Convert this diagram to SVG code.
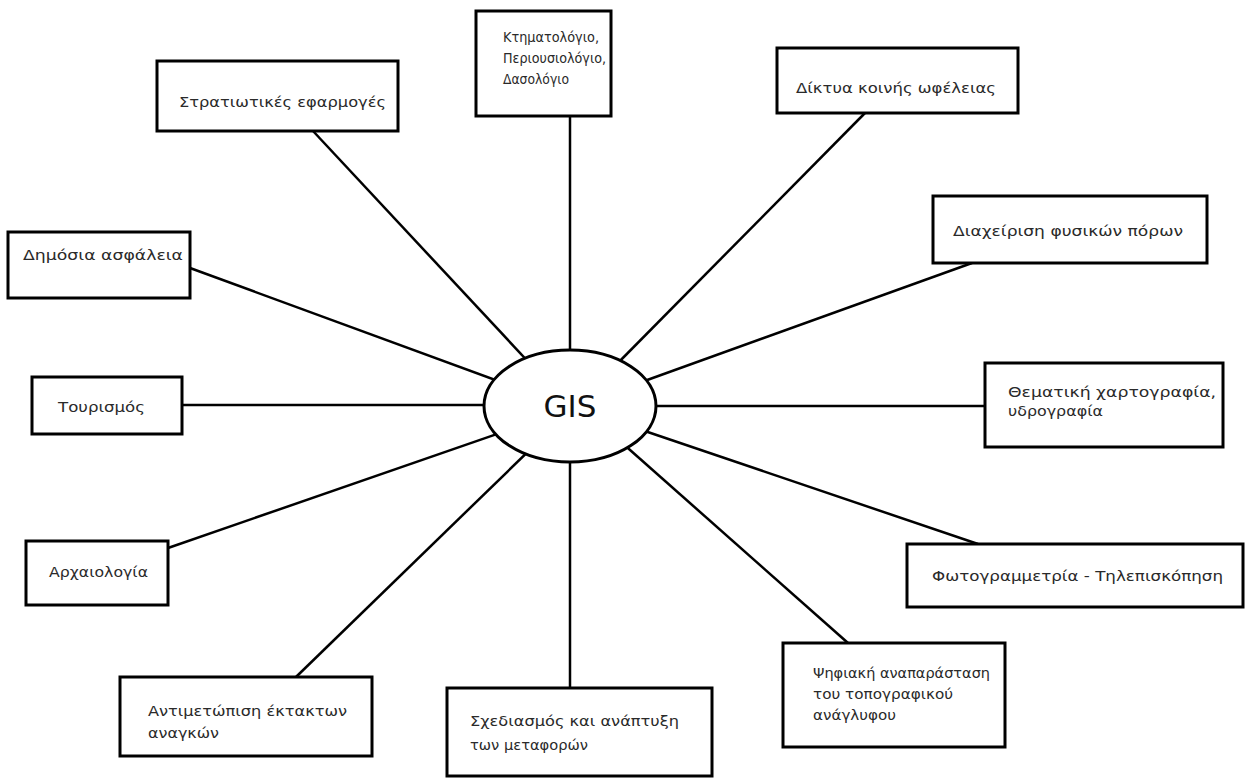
<svg xmlns="http://www.w3.org/2000/svg" width="1248" height="778" viewBox="0 0 1248 778">
<style>
.box{fill:#fff;stroke:#000;stroke-width:3}
.lnk{stroke:#000;stroke-width:2.5;fill:none}
.t{font-family:"DejaVu Sans","Liberation Sans",sans-serif;font-size:14px;fill:#2a2a2a}
.g{font-family:"DejaVu Sans","Liberation Sans",sans-serif;font-size:31px;fill:#111}
</style>
<rect width="1248" height="778" fill="#fff"/>
<g id="connectors">
<line class="lnk" x1="313" y1="131" x2="535" y2="369"/>
<line class="lnk" x1="570" y1="116" x2="570" y2="370"/>
<line class="lnk" x1="865" y1="113" x2="610" y2="371"/>
<line class="lnk" x1="972" y1="263" x2="625" y2="388"/>
<line class="lnk" x1="985" y1="406" x2="640" y2="406"/>
<line class="lnk" x1="978" y1="544" x2="630" y2="426"/>
<line class="lnk" x1="848" y1="643" x2="612" y2="434"/>
<line class="lnk" x1="570" y1="688" x2="570" y2="440"/>
<line class="lnk" x1="296" y1="677" x2="540" y2="440"/>
<line class="lnk" x1="168" y1="548" x2="520" y2="426"/>
<line class="lnk" x1="182" y1="405" x2="500" y2="405"/>
<line class="lnk" x1="190" y1="268" x2="520" y2="389"/>
</g>
<g id="gis">
<ellipse class="box" cx="570" cy="406" rx="86" ry="56"/>
<text class="g" x="570" y="417" text-anchor="middle">GIS</text>
</g>
<g id="n-strat">
<rect class="box" x="157" y="61" width="241" height="70"/>
<text class="t" x="179" y="107" textLength="207" lengthAdjust="spacingAndGlyphs">Στρατιωτικές εφαρμογές</text>
</g>
<g id="n-ktim">
<rect class="box" x="476" y="11" width="135" height="105"/>
<text class="t" x="503" y="42" textLength="96" lengthAdjust="spacingAndGlyphs">Κτηματολόγιο,</text>
<text class="t" x="503" y="63" textLength="103" lengthAdjust="spacingAndGlyphs">Περιουσιολόγιο,</text>
<text class="t" x="503" y="84" textLength="66" lengthAdjust="spacingAndGlyphs">Δασολόγιο</text>
</g>
<g id="n-diktya">
<rect class="box" x="777" y="48" width="241" height="65"/>
<text class="t" x="796" y="93" textLength="200" lengthAdjust="spacingAndGlyphs">Δίκτυα κοινής ωφέλειας</text>
</g>
<g id="n-diax">
<rect class="box" x="933" y="196" width="274" height="67"/>
<text class="t" x="953" y="236" textLength="230" lengthAdjust="spacingAndGlyphs">Διαχείριση φυσικών πόρων</text>
</g>
<g id="n-dimosia">
<rect class="box" x="8" y="232" width="182" height="66"/>
<text class="t" x="23" y="260" textLength="160" lengthAdjust="spacingAndGlyphs">Δημόσια ασφάλεια</text>
</g>
<g id="n-tour">
<rect class="box" x="32" y="377" width="150" height="57"/>
<text class="t" x="58" y="412" textLength="87" lengthAdjust="spacingAndGlyphs">Τουρισμός</text>
</g>
<g id="n-them">
<rect class="box" x="985" y="363" width="238" height="84"/>
<text class="t" x="1008" y="397" textLength="208" lengthAdjust="spacingAndGlyphs">Θεματική χαρτογραφία,</text>
<text class="t" x="1008" y="416" textLength="95" lengthAdjust="spacingAndGlyphs">υδρογραφία</text>
</g>
<g id="n-arch">
<rect class="box" x="26" y="541" width="142" height="64"/>
<text class="t" x="49" y="577" textLength="99" lengthAdjust="spacingAndGlyphs">Αρχαιολογία</text>
</g>
<g id="n-foto">
<rect class="box" x="907" y="544" width="336" height="63"/>
<text class="t" x="932" y="581" textLength="291" lengthAdjust="spacingAndGlyphs">Φωτογραμμετρία - Τηλεπισκόπηση</text>
</g>
<g id="n-antim">
<rect class="box" x="120" y="677" width="252" height="79"/>
<text class="t" x="148" y="716" textLength="199" lengthAdjust="spacingAndGlyphs">Αντιμετώπιση έκτακτων</text>
<text class="t" x="148" y="738" textLength="71" lengthAdjust="spacingAndGlyphs">αναγκών</text>
</g>
<g id="n-sxed">
<rect class="box" x="447" y="688" width="265" height="88"/>
<text class="t" x="470" y="726" textLength="209" lengthAdjust="spacingAndGlyphs">Σχεδιασμός και ανάπτυξη</text>
<text class="t" x="470" y="750" textLength="118" lengthAdjust="spacingAndGlyphs">των μεταφορών</text>
</g>
<g id="n-psif">
<rect class="box" x="783" y="643" width="222" height="104"/>
<text class="t" x="813" y="678" textLength="177" lengthAdjust="spacingAndGlyphs">Ψηφιακή αναπαράσταση</text>
<text class="t" x="813" y="699" textLength="140" lengthAdjust="spacingAndGlyphs">του τοπογραφικού</text>
<text class="t" x="813" y="720" textLength="83" lengthAdjust="spacingAndGlyphs">ανάγλυφου</text>
</g>
</svg>
